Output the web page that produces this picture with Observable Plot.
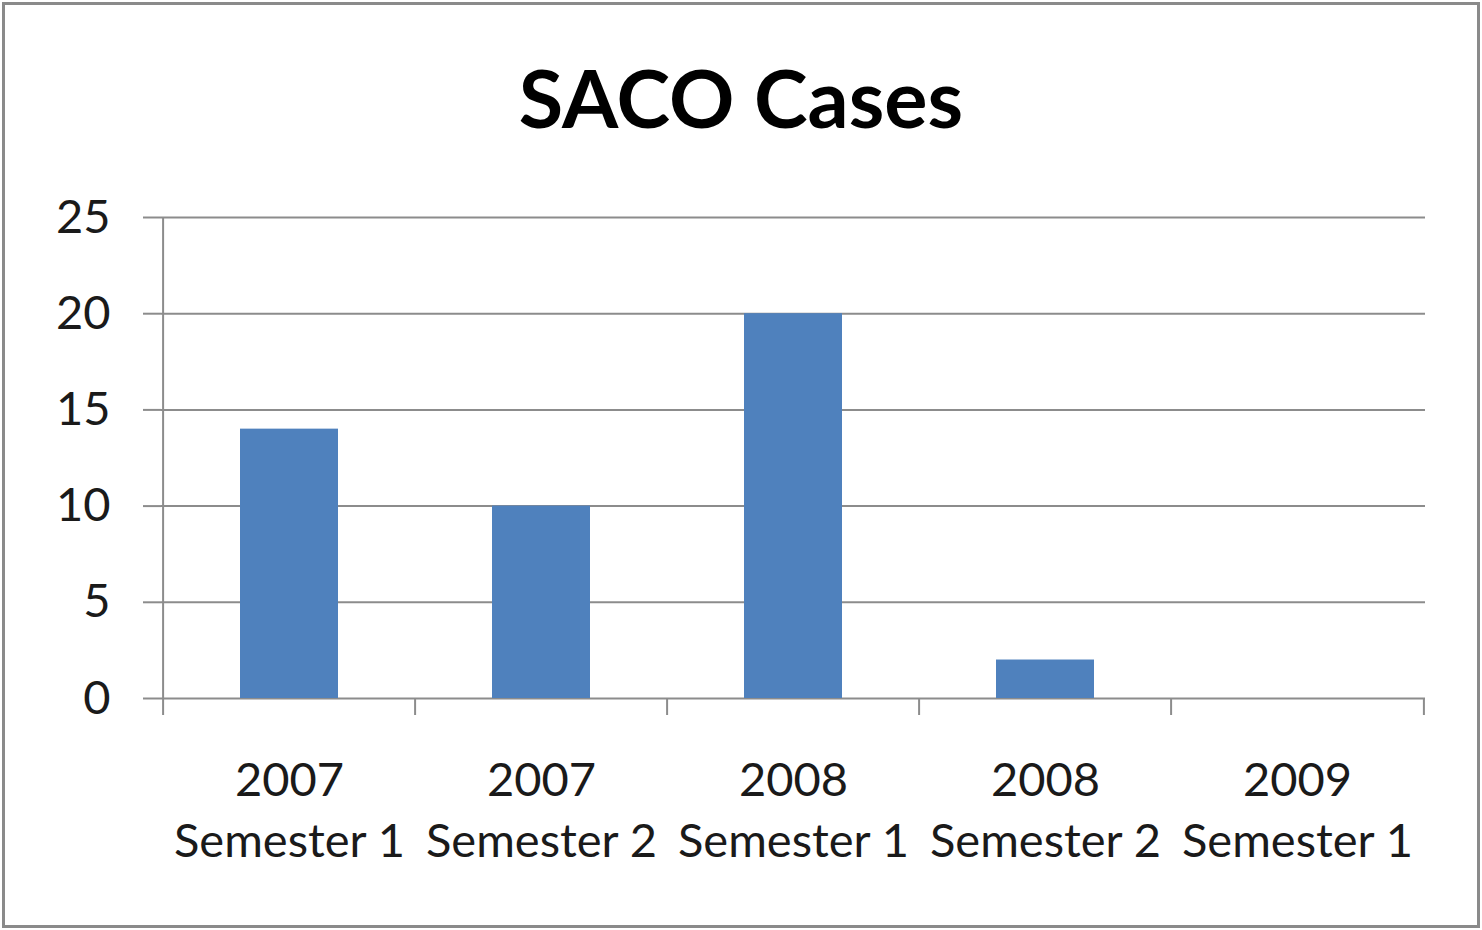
<!DOCTYPE html>
<html>
<head>
<meta charset="utf-8">
<script src="https://cdn.jsdelivr.net/npm/d3@7"></script>
<script src="https://cdn.jsdelivr.net/npm/@observablehq/plot@0.6"></script>
<style>
  html, body { margin: 0; padding: 0; background: #fff; }
  body { width: 1482px; height: 930px; position: relative; overflow: hidden; font-family: Lato, "Open Sans", sans-serif; }
  #frame { position: absolute; left: 2px; top: 2px; width: 1478px; height: 926px; box-sizing: border-box; border: 3px solid #8a8a8a; z-index: 5; pointer-events: none; }
  #title { position: absolute; left: 0; top: 0; width: 1482px; height: 180px; box-sizing: border-box; padding-top: 56px; text-align: center; font-size: 81px; font-weight: 700; line-height: 1; color: #000; }
  #chart { position: absolute; left: 0; top: 180px; }
</style>
</head>
<body>
<div id="frame"></div>
<div id="title">SACO Cases</div>
<div id="chart"></div>
<script>
const years = ["2007", "2007", "2008", "2008", "2009"];
const semesters = ["Semester 1", "Semester 2", "Semester 1", "Semester 2", "Semester 1"];
const cases = [14, 10, 20, 2, 0];
const yTicks = [0, 5, 10, 15, 20, 25];

const categories = years.map((y, i) => `${y}\n${semesters[i]}`);
const data = categories.map((c, i) => ({category: c, value: cases[i]}));

const W = 1482, H = 750;
const mL = 161, mR = 57, mT = 37, mB = 232;
const step = (W - mL - mR) / categories.length;
const gridColor = "#8c8c8c";

const plot = Plot.plot({
  width: W,
  height: H,
  marginLeft: mL,
  marginRight: mR,
  marginTop: mT,
  marginBottom: mB,
  style: {fontFamily: "Lato, 'Open Sans', sans-serif", color: "#1a1a1a", background: "transparent", overflow: "visible"},
  x: {type: "band", domain: categories, paddingInner: 0.61, paddingOuter: 0.305, align: 0.5},
  y: {domain: [0, 25]},
  marks: [
    Plot.ruleY(yTicks, {stroke: gridColor, strokeWidth: 2}),
    Plot.barY(data, {x: "category", y: "value", fill: "#4F81BD"}),
    // left axis line
    Plot.ruleX([categories[0]], {dx: -step / 2, y1: 25, y2: 0, insetBottom: -17, stroke: gridColor, strokeWidth: 2}),
    // category boundary ticks
    Plot.ruleX(categories.slice(1), {dx: -step / 2, y1: 0, y2: 0, insetBottom: -17, stroke: gridColor, strokeWidth: 2}),
    Plot.ruleX([categories[categories.length - 1]], {dx: step / 2, y1: 0, y2: 0, insetBottom: -17, stroke: gridColor, strokeWidth: 2}),
    Plot.axisY({ticks: yTicks, tickSize: 18, tickPadding: 33, stroke: gridColor, strokeWidth: 2, fontSize: 47, fill: "#1a1a1a", label: null}),
    Plot.axisX({tickSize: 0, tickPadding: 54, fontSize: 47, lineHeight: 1.3, fill: "#1a1a1a", label: null})
  ]
});
document.getElementById("chart").appendChild(plot);
</script>
</body>
</html>
